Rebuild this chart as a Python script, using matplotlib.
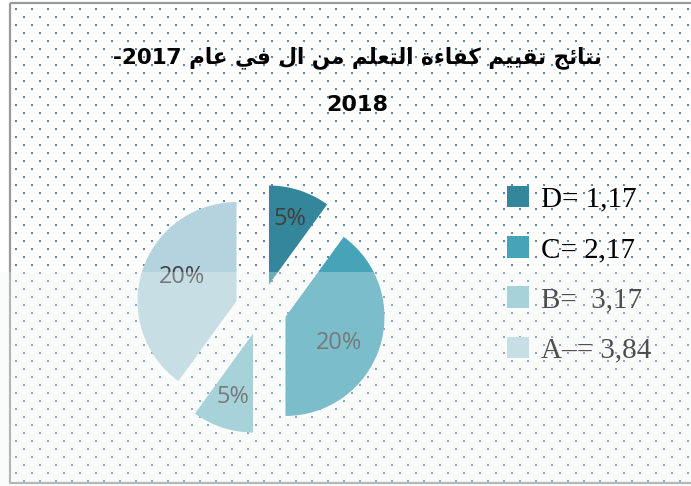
import re
import numpy as np
import matplotlib
matplotlib.use("Agg")
import matplotlib.pyplot as plt
from matplotlib.patches import Rectangle

# ---------------- data ----------------
title_line1 = "نتائج تقييم كفاءة التعلم من ال في عام 2017-"
title_line2 = "2018"
categories = ["D", "C", "B", "A"]
values = [5, 20, 5, 20]
legend_labels = ["D= 1,17", "C= 2,17", "B=  3,17", "A–= 3,84"]
colors = ["#34869b", "#46a3b8", "#86c1cd", "#b5d3df"]

# ---------------- Arabic shaping (presentation forms + visual order) ----------------
FORMS = {
    'ا': ('\uFE8D', '\uFE8E', None, None),
    'ء': ('\uFE80', None, None, None),
    'ئ': ('\uFE89', '\uFE8A', '\uFE8B', '\uFE8C'),
    'ة': ('\uFE93', '\uFE94', None, None),
    'ت': ('\uFE95', '\uFE96', '\uFE97', '\uFE98'),
    'ج': ('\uFE9D', '\uFE9E', '\uFE9F', '\uFEA0'),
    'ع': ('\uFEC9', '\uFECA', '\uFECB', '\uFECC'),
    'ف': ('\uFED1', '\uFED2', '\uFED3', '\uFED4'),
    'ق': ('\uFED5', '\uFED6', '\uFED7', '\uFED8'),
    'ك': ('\uFED9', '\uFEDA', '\uFEDB', '\uFEDC'),
    'ل': ('\uFEDD', '\uFEDE', '\uFEDF', '\uFEE0'),
    'م': ('\uFEE1', '\uFEE2', '\uFEE3', '\uFEE4'),
    'ن': ('\uFEE5', '\uFEE6', '\uFEE7', '\uFEE8'),
    'ي': ('\uFEF1', '\uFEF2', '\uFEF3', '\uFEF4'),
}


def shape(text):
    out = []
    n = len(text)
    for i, ch in enumerate(text):
        f = FORMS.get(ch)
        if f is None:
            out.append(ch)
            continue
        prev = FORMS.get(text[i - 1]) if i > 0 else None
        nxt = FORMS.get(text[i + 1]) if i + 1 < n else None
        pj = prev is not None and prev[2] is not None and f[1] is not None
        nj = f[2] is not None and nxt is not None and nxt[1] is not None
        if pj and nj:
            out.append(f[3])
        elif pj:
            out.append(f[1])
        elif nj:
            out.append(f[2])
        else:
            out.append(f[0])
    vis = "".join(out)[::-1]
    return re.sub(r"[0-9]+", lambda m: m.group(0)[::-1], vis)


# ---------------- figure ----------------
W, H = 691, 486
fig = plt.figure(figsize=(W / 100, H / 100), dpi=100)
fig.patch.set_facecolor("white")

bg = fig.add_axes([0, 0, 1, 1], zorder=0)
bg.set_xlim(0, W)
bg.set_ylim(H, 0)
bg.axis("off")

# dotted chart-area pattern
dx, dy = [], []
k = 0
y = 9
while y < 482:
    x = 16 if k % 2 == 0 else 24
    while x < W:
        dx.append(x)
        dy.append(y)
        x += 16
    y += 8
    k += 1
bg.scatter(dx, dy, s=2.4, marker="s", color="#5a88c4", linewidths=0)
bg.add_patch(Rectangle((10.5, 3.5), 700, 479.5, fill=False,
                       edgecolor="#9a9a9a", linewidth=1.6))

# pie
cx, cy, r = 261, 309, 99
half = 150
ax = fig.add_axes([(cx - half) / W, (H - cy - half) / H, 2 * half / W, 2 * half / H], zorder=2)
ax.patch.set_alpha(0)
total = sum(values)
wedges, texts, autotexts = ax.pie(
    values, colors=colors, startangle=90, counterclock=False,
    explode=[0.26] * len(values), radius=1,
    autopct=lambda p: f"{round(p * total / 100)}%", pctdistance=0.64,
    wedgeprops=dict(linewidth=0),
    textprops=dict(color="#404040", fontsize=17, family="Open Sans"))
# per-slice label placement (distance from each wedge's own centre, angle shift)
label_dist = [0.70, 0.60, 0.67, 0.60]
label_shift = [0, -8, 0, -6]
for w, t, d, s in zip(wedges, autotexts, label_dist, label_shift):
    ang = np.deg2rad((w.theta1 + w.theta2) / 2 + s)
    wx, wy = w.center
    t.set_position((wx + d * np.cos(ang), wy + d * np.sin(ang)))
lim = half / r
ax.set_xlim(-lim, lim)
ax.set_ylim(-lim, lim)
ax.axis("off")

# title
fig.text(357 / W, 1 - 58 / H, shape(title_line1), ha="center", va="center",
         fontsize=15.5, fontweight="bold", family=["DejaVu Sans"], color="black")
fig.text(357 / W, 1 - 105 / H, title_line2, ha="center", va="center",
         fontsize=16, fontweight="bold", family=["DejaVu Sans"], color="black")

# legend
fig.legend(wedges, legend_labels, loc="upper left",
           bbox_to_anchor=(507 / W, 1 - 186 / H), frameon=False,
           prop=dict(family="Liberation Serif", size=21),
           handlelength=0.75, handleheight=0.75, handletextpad=0.4,
           labelspacing=0.8, borderpad=0, borderaxespad=0)

# faint watermark wash over the lower part
ov = fig.add_axes([0, 0, 1, 1], zorder=10)
ov.set_xlim(0, W)
ov.set_ylim(H, 0)
ov.axis("off")
ov.patch.set_alpha(0)
ov.add_patch(Rectangle((0, 272), W, H - 272, facecolor="#eef7f3", alpha=0.32,
                       linewidth=0))

fig.savefig("out.png", dpi=100)
